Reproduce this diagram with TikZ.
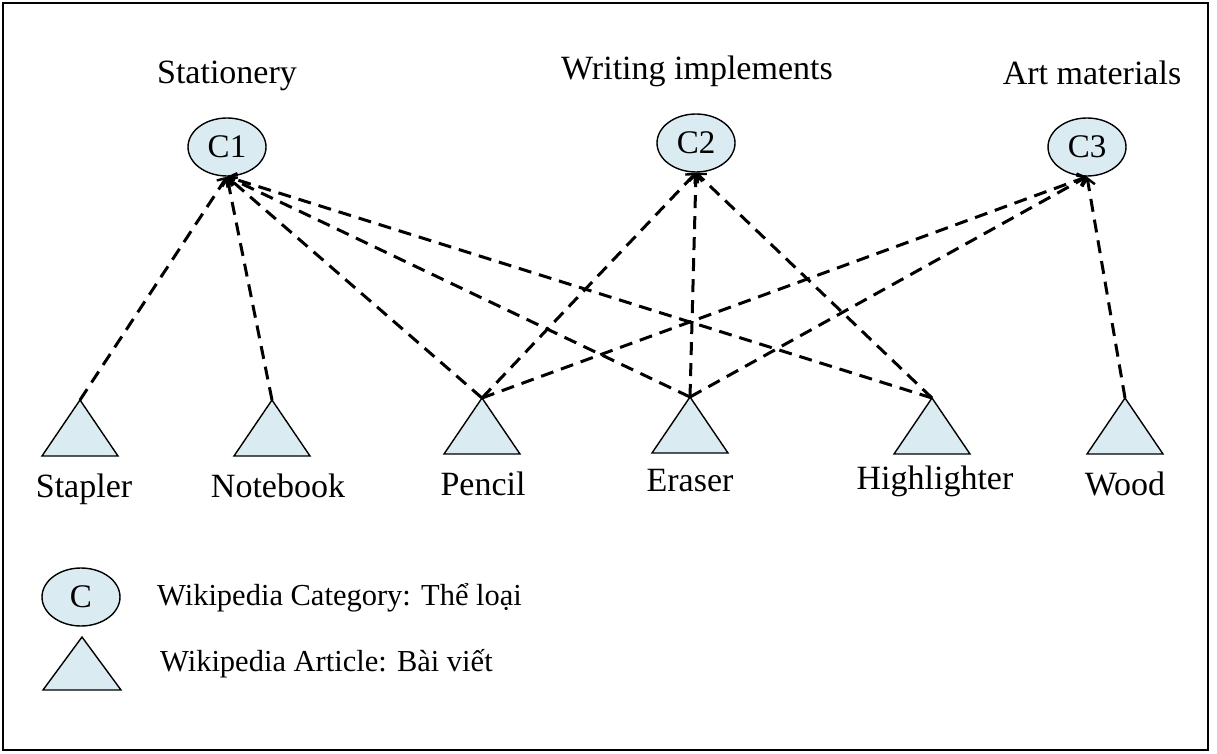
\documentclass[tikz,border=0pt]{standalone}
\usepackage{fontspec}
\setmainfont{Liberation Serif}
\usetikzlibrary{arrows.meta,shapes.geometric}
\definecolor{fillblue}{RGB}{218,236,242}
\begin{document}
\begin{tikzpicture}[x=1pt,y=-1pt,
  cat/.style={ellipse,draw,line width=1.4pt,fill=fillblue,minimum width=78pt,minimum height=58pt,inner sep=0pt,font=\fontsize{33}{36}\selectfont},
  tri/.style={draw,line width=1.4pt,fill=fillblue,line join=miter},
  lbl/.style={font=\fontsize{34}{38}\selectfont,inner sep=0pt},
  leg/.style={font=\fontsize{30.5}{34}\selectfont,inner sep=0pt,anchor=west},
  link/.style={line width=3pt,dash pattern=on 13pt off 8pt,-{Straight Barb[length=7pt,width=13pt,line width=2.4pt]}}]
\useasboundingbox (0,0) rectangle (1217,754);
\draw[line width=1.2pt] (3,3) rectangle (1208,750);
% categories
\node[cat] (c1) at (227,147) {C1};
\node[cat] (c2) at (696,143) {C2};
\node[cat] (c3) at (1087,147) {C3};
\node[lbl] (l1) at (227,76) {Stationery};
\node[lbl] (l2) at (697,71) {Writing implements};
\node[lbl] (l3) at (1092,73) {Art materials};
% articles (apex coordinates)
\coordinate (stapler) at (80,400);
\coordinate (notebook) at (272,400);
\coordinate (pencil) at (482,398);
\coordinate (eraser) at (690,397);
\coordinate (highlighter) at (932,398);
\coordinate (wood) at (1125,398);
\foreach \t in {stapler,notebook,pencil,eraser,highlighter,wood}{
  \draw[tri] (\t) -- ++(-38,56) -- ++(76,0) -- cycle;
}
\node[lbl] (ts) at (84,489) {Stapler};
\node[lbl] (tn) at (278,486) {Notebook};
\node[lbl] (tp) at (483,484) {Pencil};
\node[lbl] (te) at (690,481) {Eraser};
\node[lbl] (th) at (935,481) {Highlighter};
\node[lbl] (tw) at (1125,484) {Wood};
% links
\draw[link] (stapler) -- (c1.south);
\draw[link] (notebook) -- (c1.south);
\draw[link] (pencil) -- (c1.south);
\draw[link] (eraser) -- (c1.south);
\draw[link] (highlighter) -- (c1.south);
\draw[link] (pencil) -- (c2.south);
\draw[link] (eraser) -- (c2.south);
\draw[link] (highlighter) -- (c2.south);
\draw[link] (pencil) -- (c3.south);
\draw[link] (eraser) -- (c3.south);
\draw[link] (wood) -- (c3.south);
% legend
\node[cat] (lc) at (81,597) {C};
\node[leg] (lct) at (157,598) {Wikipedia Category: Thể loại};
\coordinate (la) at (82,637);
\draw[tri] (la) -- ++(-39,53) -- ++(78,0) -- cycle;
\node[leg] (lat) at (160,664) {Wikipedia Article: Bài viết};
\end{tikzpicture}
\end{document}
